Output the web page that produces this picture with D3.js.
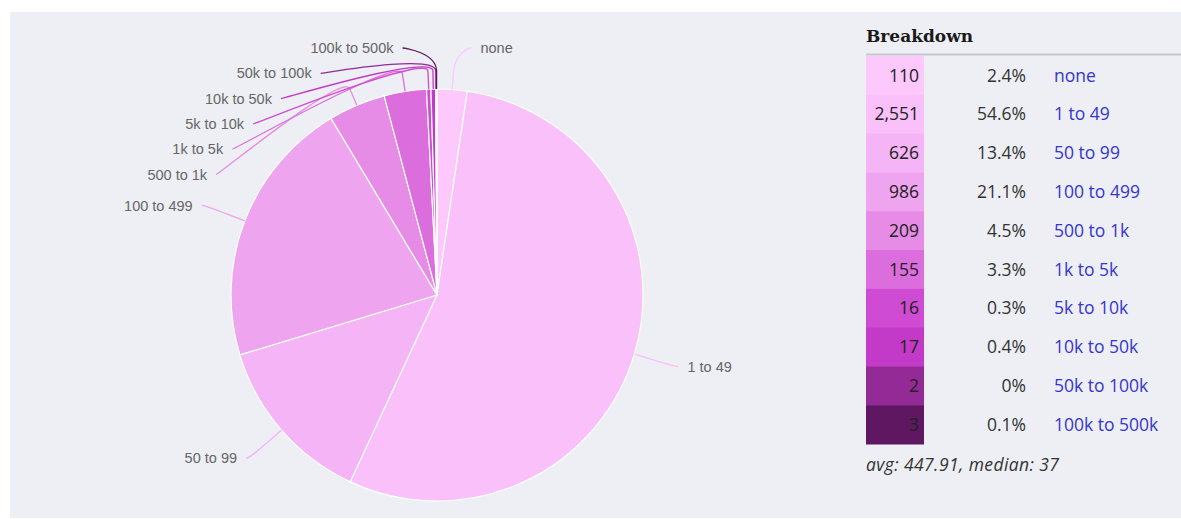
<!DOCTYPE html>
<html>
<head>
<meta charset="utf-8">
<script src="https://cdn.jsdelivr.net/npm/d3@7"></script>
<style>
  html, body { margin: 0; padding: 0; background: #ffffff; }
  svg { display: block; }
</style>
</head>
<body>
<svg id="chart" width="1181" height="519"></svg>
<script>
// Size buckets and their counts
const categories = ["none", "1 to 49", "50 to 99", "100 to 499", "500 to 1k",
                    "1k to 5k", "5k to 10k", "10k to 50k", "50k to 100k", "100k to 500k"];
const counts = [110, 2551, 626, 986, 209, 155, 16, 17, 2, 3];
const summary = { avg: 447.91, median: 37 };
const title = "Breakdown";

// Colour ramp from pale pink to deep purple
const palette = ["#fdc9fd", "#f9c0fa", "#f5b4f6", "#efa4ef", "#e68ce7",
                 "#dc6ddd", "#cf4bd3", "#c23ac7", "#932a96", "#5f1762"];

const W = 1181, H = 519;
const svg = d3.select("#chart");

// panel background
svg.append("rect").attr("x", 10).attr("y", 12).attr("width", W - 10).attr("height", H - 13)
  .attr("fill", "#edeff4");

const data = categories.map((c, i) => ({ name: c, value: counts[i], color: palette[i] }));
const total = d3.sum(counts);

// ---------- pie ----------
const cx = 437, cy = 295, radius = 206;
const pie = d3.pie().value(d => d.value).sort(null).startAngle(0).endAngle(2 * Math.PI);
const arcs = pie(data);
const arc = d3.arc().innerRadius(0).outerRadius(radius);

const g = svg.append("g").attr("transform", `translate(${cx},${cy})`);
g.selectAll("path.slice").data(arcs).join("path")
  .attr("class", "slice")
  .attr("d", arc)
  .attr("fill", d => d.data.color)
  .attr("stroke", "#ffffff")
  .attr("stroke-width", 1.2)
  .attr("stroke-linejoin", "round");

// ---------- data labels with connectors ----------
const labelR = 249, pad = 12, spacing = 25.3, topY = 48, bottomY = 505;
const labels = arcs.map(a => {
  const mid = (a.startAngle + a.endAngle) / 2;
  return {
    arc: a, mid,
    left: mid > Math.PI,
    natY: cy - labelR * Math.cos(mid)
  };
});

function distribute(list) {
  list.sort((a, b) => a.natY - b.natY);
  let prev = -Infinity;
  list.forEach(l => { l.y = Math.max(l.natY, topY, prev + spacing); prev = l.y; });
  let next = Infinity;
  for (let i = list.length - 1; i >= 0; i--) {
    list[i].y = Math.min(list[i].y, bottomY, next - spacing);
    next = list[i].y;
  }
}
distribute(labels.filter(l => l.left));
distribute(labels.filter(l => !l.left));

labels.forEach(l => {
  const dy = l.y - cy;
  const off = Math.sqrt(Math.max(0, labelR * labelR - dy * dy));
  const s = l.left ? -1 : 1;
  l.xc = cx + s * off;
  l.tx = l.xc + s * pad;
  // connector geometry: edge point, break point just outside the pie
  const ex = cx + radius * Math.sin(l.mid), ey = cy - radius * Math.cos(l.mid);
  const bx = cx + (radius + 18) * Math.sin(l.mid), by = cy - (radius + 18) * Math.cos(l.mid);
  const sx = l.xc + s * 3;
  const p = d3.path();
  p.moveTo(sx, l.y);
  p.bezierCurveTo(l.xc, l.y, 2 * bx - ex, 2 * by - ey, bx, by);
  p.lineTo(ex, ey);
  l.path = p.toString();
});

svg.append("g").selectAll("path").data(labels).join("path")
  .attr("d", l => l.path)
  .attr("fill", "none")
  .attr("stroke", l => l.arc.data.color)
  .attr("stroke-width", 1.3);

svg.append("g").selectAll("text").data(labels).join("text")
  .attr("x", l => l.tx)
  .attr("y", l => l.y)
  .attr("dy", "0.35em")
  .attr("text-anchor", l => l.left ? "end" : "start")
  .attr("font-family", "'Liberation Sans', Arial, sans-serif")
  .attr("font-size", 14.5)
  .attr("fill", "#666666")
  .text(l => l.arc.data.name);

// ---------- breakdown table ----------
const tx0 = 866, swatchW = 58;
const tableTop = 56, tableBottom = 444;
const row = d3.scaleBand().domain(categories).range([tableTop, tableBottom]).padding(0);

svg.append("text")
  .attr("x", tx0).attr("y", 42)
  .attr("font-family", "'DejaVu Serif', serif")
  .attr("font-weight", "bold")
  .attr("font-size", 17)
  .attr("fill", "#1a1a1a")
  .text(title);

svg.append("line")
  .attr("x1", tx0).attr("x2", W).attr("y1", 54.5).attr("y2", 54.5)
  .attr("stroke", "#c5c7cf").attr("stroke-width", 2);

const pctFmt = v => {
  const s = d3.format(".1f")(v * 100);
  return (s.endsWith(".0") && v * 100 < 0.05 ? "0" : s) + "%";
};
const numFmt = d3.format(",");

const rows = svg.append("g").selectAll("g").data(data).join("g")
  .attr("transform", d => `translate(0,${row(d.name)})`);

rows.append("rect")
  .attr("x", tx0).attr("y", 0)
  .attr("width", swatchW).attr("height", row.bandwidth() + 0.5)
  .attr("fill", d => d.color);

const rowText = (sel) => sel
  .attr("y", row.bandwidth() / 2)
  .attr("dy", "0.36em")
  .attr("font-family", "'Open Sans', sans-serif")
  .attr("font-size", 17.5);

rows.append("text").call(rowText)
  .attr("x", 919).attr("text-anchor", "end").attr("fill", "#222222")
  .text(d => numFmt(d.value));

rows.append("text").call(rowText)
  .attr("x", 1026).attr("text-anchor", "end").attr("fill", "#333333")
  .text(d => pctFmt(d.value / total));

rows.append("text").call(rowText)
  .attr("x", 1054).attr("text-anchor", "start").attr("fill", "#3535d0")
  .text(d => d.name);

svg.append("text")
  .attr("x", tx0).attr("y", 471)
  .attr("font-family", "'Open Sans', sans-serif")
  .attr("font-style", "italic")
  .attr("font-size", 17.5)
  .attr("letter-spacing", 0.4)
  .attr("fill", "#333333")
  .text(`avg: ${summary.avg}, median: ${summary.median}`);
</script>
</body>
</html>
